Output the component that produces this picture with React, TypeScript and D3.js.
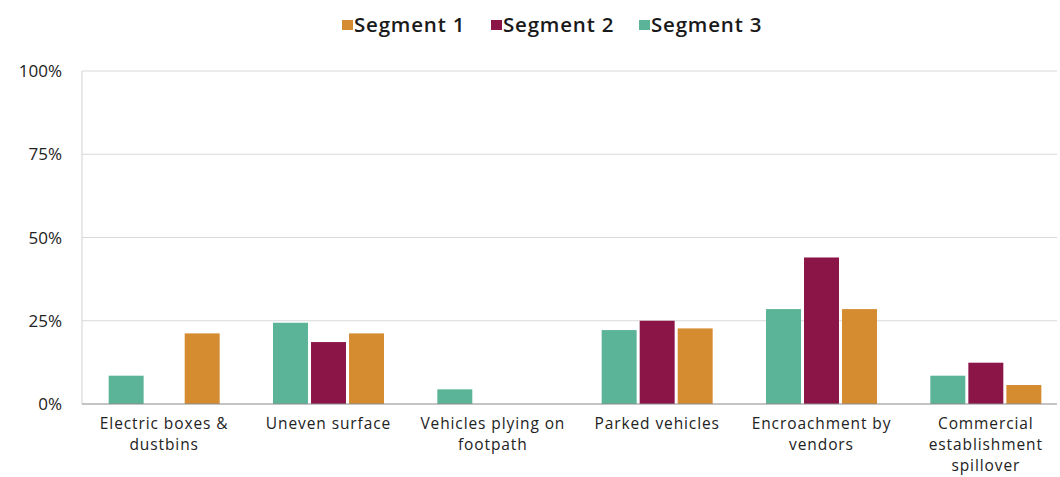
import React from "react";
import * as d3 from "d3";

const categories: string[][] = [
  ["Electric boxes &", "dustbins"],
  ["Uneven surface"],
  ["Vehicles plying on", "footpath"],
  ["Parked vehicles"],
  ["Encroachment by", "vendors"],
  ["Commercial", "establishment", "spillover"],
];
const seriesNames = ["Segment 3", "Segment 2", "Segment 1"];
const segment3 = [8.5, 24.4, 4.4, 22.2, 28.5, 8.5];
const segment2 = [0, 18.6, 0, 25.0, 44.0, 12.4];
const segment1 = [21.2, 21.2, 0, 22.7, 28.5, 5.7];
const yTicks = [0, 25, 50, 75, 100];
const legendOrder = ["Segment 1", "Segment 2", "Segment 3"];
const colors: Record<string, string> = {
  "Segment 1": "#d58b30",
  "Segment 2": "#8c1548",
  "Segment 3": "#5bb497",
};

const W = 1060;
const H = 477;
const FONT = "'Open Sans', sans-serif";

export default function App() {
  const values: Record<string, number[]> = {
    "Segment 3": segment3,
    "Segment 2": segment2,
    "Segment 1": segment1,
  };
  const plotLeft = 82;
  const plotRightLine = 1057;
  const y = d3.scaleLinear().domain([0, 100]).range([404, 71]);
  const x0 = d3
    .scaleBand<number>()
    .domain(categories.map((_, i) => i))
    .range([82, 1068])
    .padding(0);
  const groupW = 111;
  const x1 = d3
    .scaleBand<string>()
    .domain(seriesNames)
    .range([0, groupW])
    .paddingInner(0.08)
    .paddingOuter(0);

  const legendX: Record<string, number> = { "Segment 1": 342, "Segment 2": 491, "Segment 3": 639 };

  return (
    <svg width={W} height={H} style={{ position: "absolute", left: 0, top: 0, background: "#fff" }}>
      {/* legend */}
      {legendOrder.map((s) => (
        <g key={s}>
          <rect x={legendX[s]} y={20} width={11} height={10} fill={colors[s]} />
          <text
            x={legendX[s] + 12}
            y={32}
            fontFamily={FONT}
            fontSize={20.5}
            fontWeight={600}
            letterSpacing={0.8}
            fill="#1a1a1a"
          >
            {s}
          </text>
        </g>
      ))}
      {/* gridlines */}
      {yTicks.map((t) => (
        <g key={t}>
          {t > 0 && (
            <line x1={plotLeft} x2={plotRightLine} y1={y(t)} y2={y(t)} stroke="#d9d9d9" strokeWidth={1.2} />
          )}
          <text
            x={62}
            y={y(t) + 6}
            textAnchor="end"
            fontFamily={FONT}
            fontSize={17}
            fill="#222"
          >
            {t}%
          </text>
        </g>
      ))}
      <line x1={plotLeft} x2={plotLeft} y1={y(100)} y2={y(0)} stroke="#d9d9d9" strokeWidth={1.2} />
      {/* bars */}
      {categories.map((_, i) => {
        const cx = (x0(i) as number) + x0.bandwidth() / 2;
        const gx = cx - groupW / 2;
        return (
          <g key={i} transform={`translate(${gx},0)`}>
            {seriesNames.map((s) => {
              const v = values[s][i];
              if (!v) return null;
              return (
                <rect
                  key={s}
                  x={x1(s)}
                  y={y(v)}
                  width={x1.bandwidth()}
                  height={y(0) - y(v)}
                  fill={colors[s]}
                />
              );
            })}
          </g>
        );
      })}
      {/* baseline */}
      <line x1={plotLeft} x2={plotRightLine} y1={y(0)} y2={y(0)} stroke="#8a8a8a" strokeWidth={1.2} />
      {/* category labels */}
      {categories.map((lines, i) => {
        const cx = (x0(i) as number) + x0.bandwidth() / 2;
        return (
          <text key={i} textAnchor="middle" fontFamily={FONT} fontSize={15.5} letterSpacing={0.9} fill="#222">
            {lines.map((l, j) => (
              <tspan key={j} x={cx} y={429 + j * 21.2}>
                {l}
              </tspan>
            ))}
          </text>
        );
      })}
    </svg>
  );
}
